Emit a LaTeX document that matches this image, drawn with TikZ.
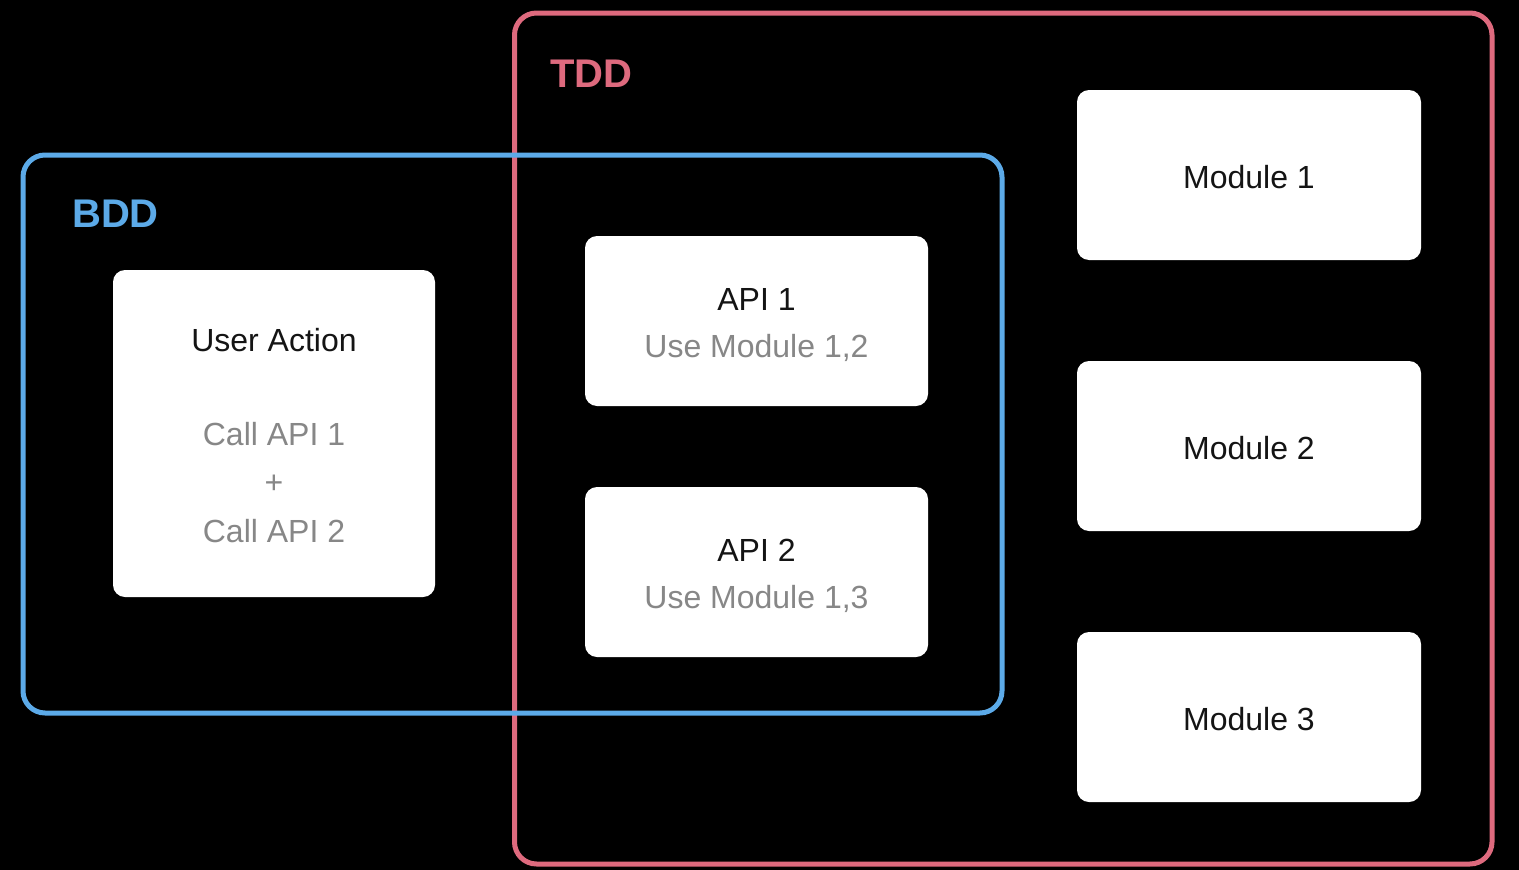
\documentclass[tikz,border=0pt]{standalone}
\usepackage{fontspec}
\setmainfont{Liberation Sans}
\definecolor{tddred}{RGB}{222,106,126}
\definecolor{bddblue}{RGB}{92,170,232}
\definecolor{subgray}{RGB}{135,135,135}
\definecolor{ink}{RGB}{20,20,20}
\begin{document}
\begin{tikzpicture}[x=1pt,y=-1pt,
  frame/.style={draw, line width=5pt, rounded corners=22pt, inner sep=0pt},
  card/.style={fill=white, rounded corners=12pt, inner sep=0pt},
  maintxt/.style={font=\fontsize{32}{38}\selectfont, text=ink, anchor=base, inner sep=0pt},
  subtxt/.style={maintxt, text=subgray},
  tag/.style={font=\bfseries\fontsize{40}{48}\selectfont, anchor=base west, inner sep=0pt}]
\fill[black] (0,0) rectangle (1519,870);
\useasboundingbox (0,0) rectangle (1519,870);
% frames
\node[frame, draw=tddred, minimum width=977.5pt, minimum height=851pt] (tdd) at (1003.25,438.5) {};
\node[frame, draw=bddblue, minimum width=979pt, minimum height=558pt] (bdd) at (512.5,434) {};
\node[tag, text=tddred] (tddlbl) at (550,87) {TDD};
\node[tag, text=bddblue] (bddlbl) at (72,227) {BDD};
% cards
\node[card, minimum width=322pt, minimum height=327pt] (user) at (274,433.5) {};
\node[card, minimum width=343pt, minimum height=170pt] (api1) at (756.5,321) {};
\node[card, minimum width=343pt, minimum height=170pt] (api2) at (756.5,572) {};
\node[card, minimum width=344pt, minimum height=170pt] (mod1) at (1249,175) {};
\node[card, minimum width=344pt, minimum height=170pt] (mod2) at (1249,446) {};
\node[card, minimum width=344pt, minimum height=170pt] (mod3) at (1249,717) {};
% texts
\node[maintxt] (usert) at (274,351) {User Action};
\node[subtxt] (call1) at (274,445) {Call API 1};
\node[subtxt] (plus) at (274,493) {+};
\node[subtxt] (call2) at (274,542) {Call API 2};
\node[maintxt] (api1t) at (756.5,310) {API 1};
\node[subtxt] (api1s) at (756.5,357) {Use Module 1,2};
\node[maintxt] (api2t) at (756.5,561) {API 2};
\node[subtxt] (api2s) at (756.5,608) {Use Module 1,3};
\node[maintxt] (mod1t) at (1249,188) {Module 1};
\node[maintxt] (mod2t) at (1249,459) {Module 2};
\node[maintxt] (mod3t) at (1249,730) {Module 3};
\end{tikzpicture}
\end{document}
